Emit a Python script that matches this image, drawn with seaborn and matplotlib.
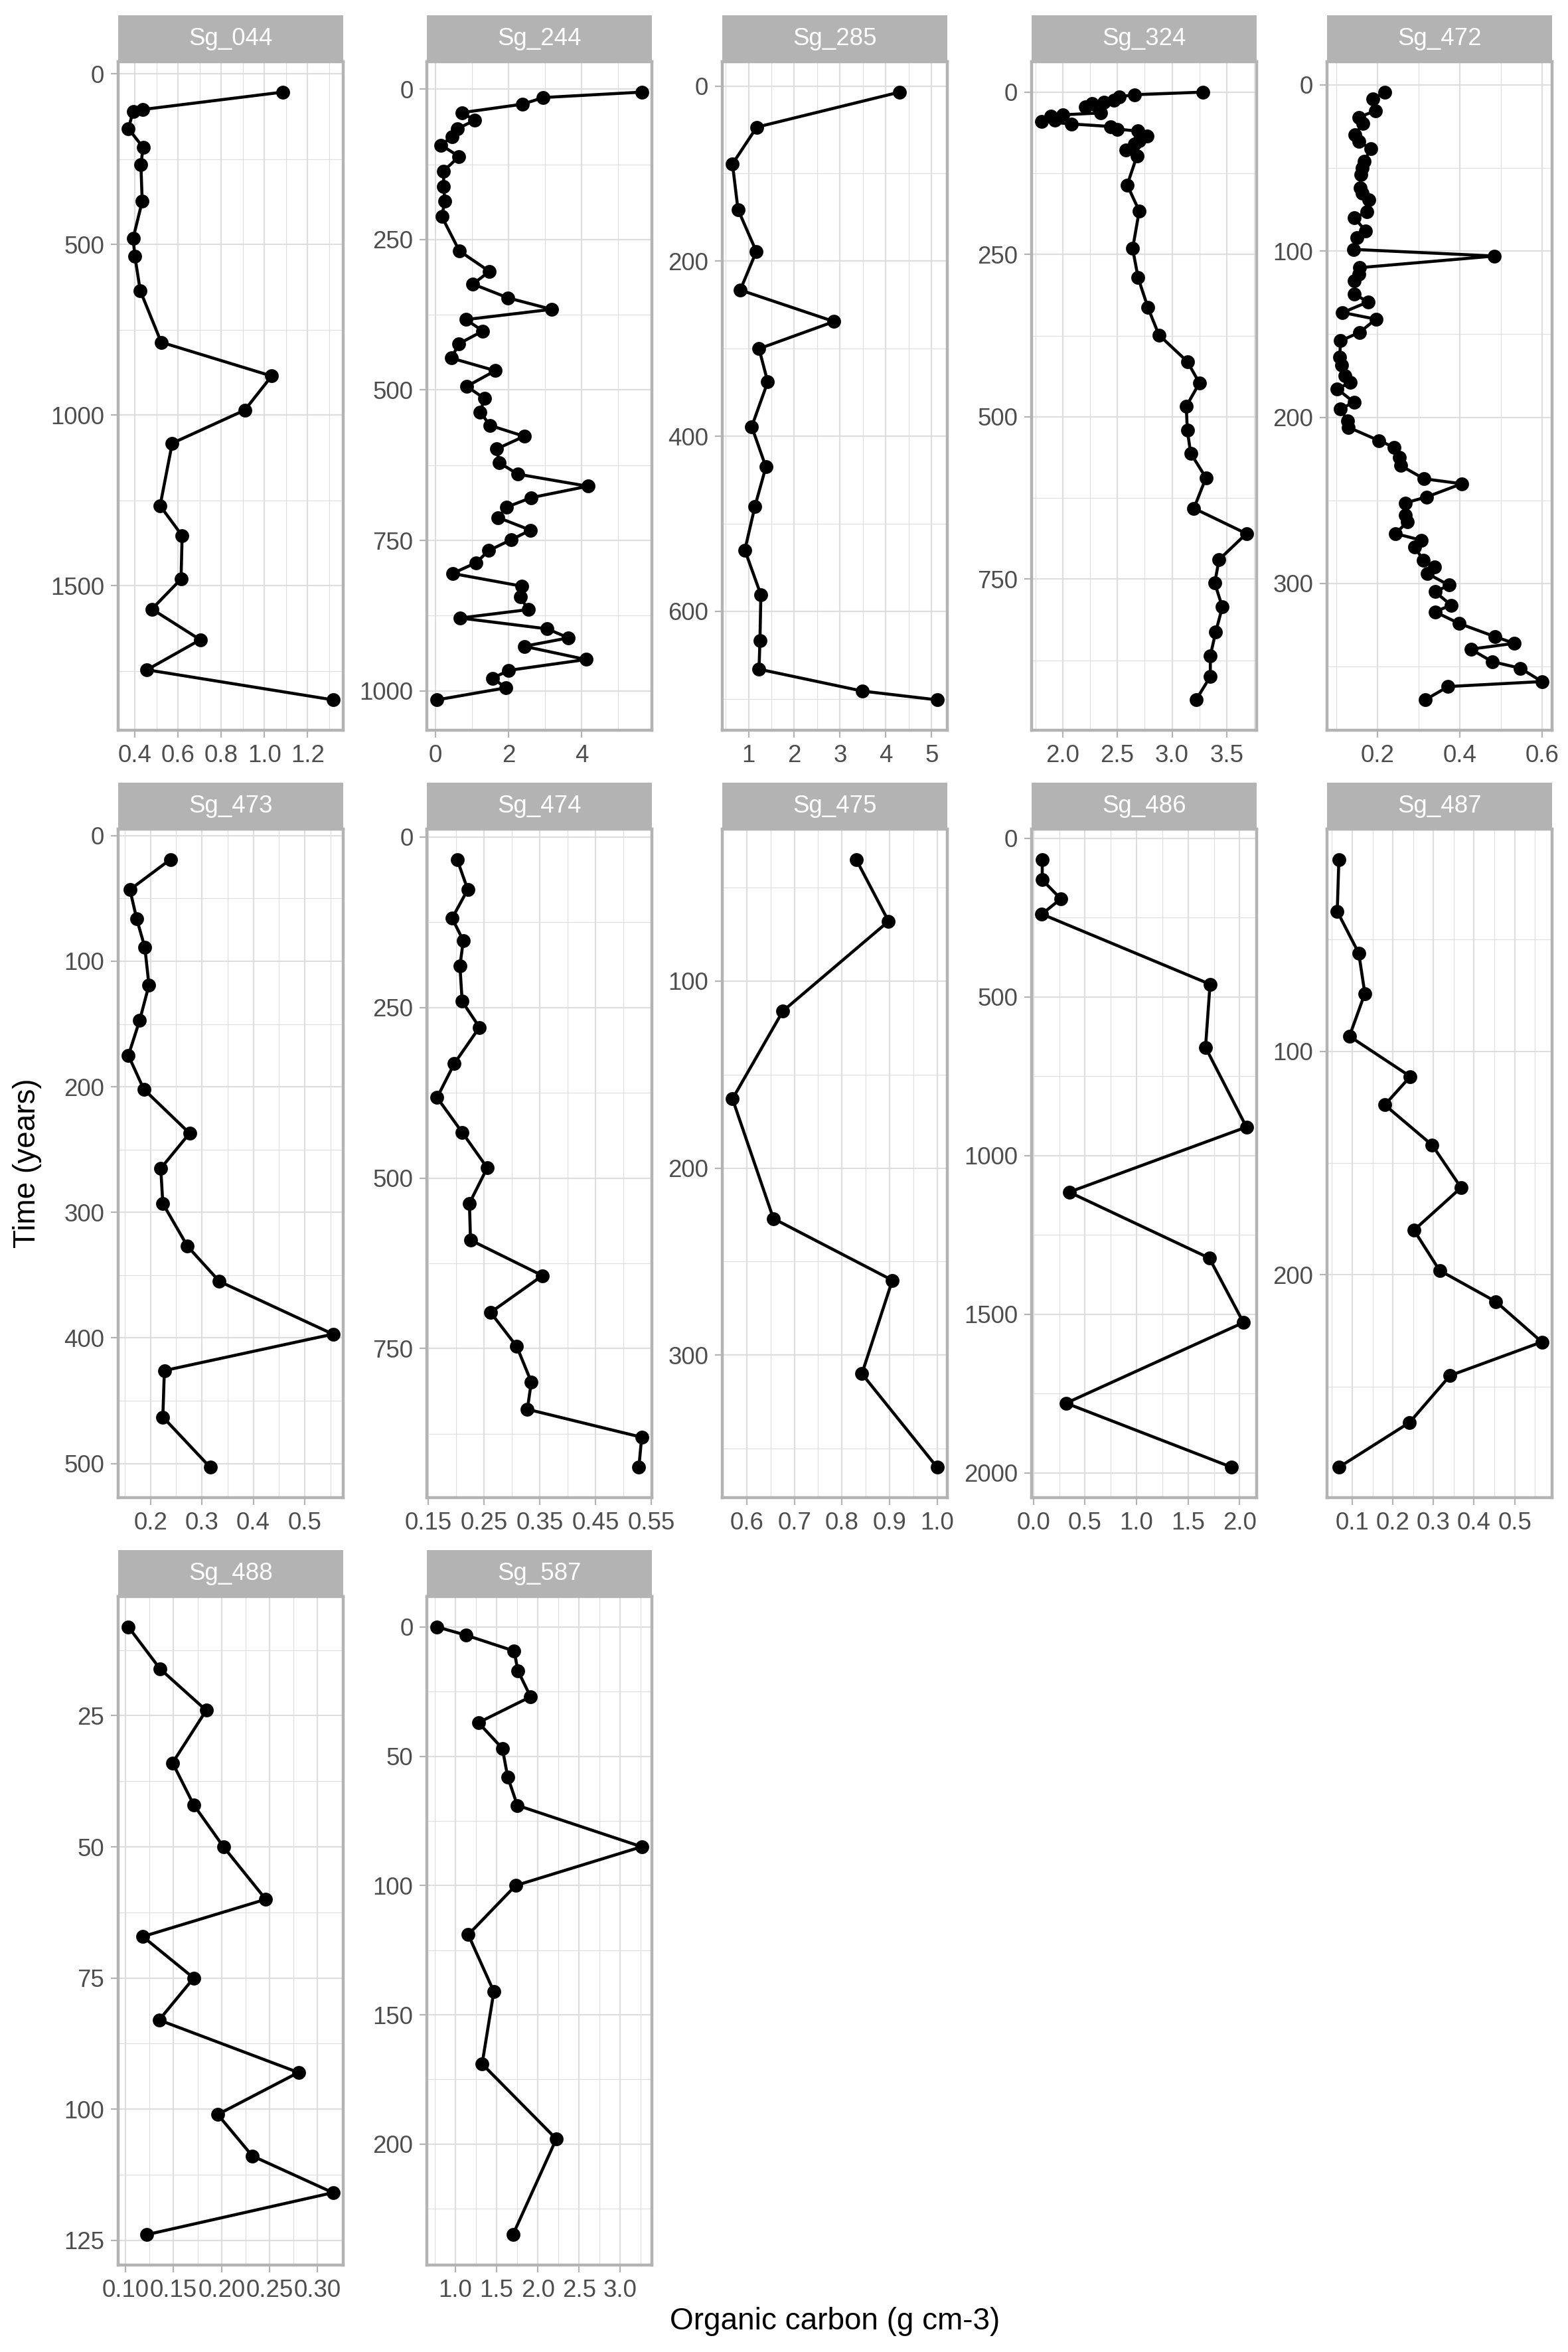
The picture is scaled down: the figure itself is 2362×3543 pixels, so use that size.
import numpy as np
import pandas as pd
import matplotlib
matplotlib.use('Agg')
import matplotlib.pyplot as plt
import seaborn as sns
from matplotlib.ticker import FixedLocator

# organic carbon (g cm-3) vs time (years) per core
sites = ['Sg_044', 'Sg_244', 'Sg_285', 'Sg_324', 'Sg_472', 'Sg_473',
         'Sg_474', 'Sg_475', 'Sg_486', 'Sg_487', 'Sg_488', 'Sg_587']

sg044_time = [54, 105, 110, 161, 216, 267, 374, 482, 535, 636, 787, 886, 986, 1083, 1266, 1354, 1481, 1569, 1659, 1747, 1835]
sg044_oc = [1.085, 0.436, 0.392, 0.370, 0.438, 0.428, 0.434, 0.392, 0.400, 0.425, 0.522, 1.034, 0.909, 0.573, 0.517, 0.619, 0.614, 0.479, 0.703, 0.456, 1.318]

sg244_time = [5, 14, 25, 39, 52, 66, 79, 93, 112, 136, 162, 186, 212, 269, 303, 324, 347, 366, 383, 402,
              423, 447, 468, 494, 514, 537, 559, 577, 598, 621, 640, 660, 679, 695, 712, 733, 749, 767, 787, 805,
              826, 844, 865, 879, 897, 912, 926, 948, 966, 979, 995, 1015]
sg244_oc = [5.64, 2.95, 2.39, 0.74, 1.07, 0.60, 0.46, 0.16, 0.65, 0.23, 0.23, 0.26, 0.18, 0.66, 1.48, 1.03, 1.99, 3.18, 0.84, 1.30,
            0.65, 0.44, 1.64, 0.86, 1.34, 1.23, 1.50, 2.43, 1.68, 1.75, 2.26, 4.17, 2.62, 1.94, 1.72, 2.60, 2.07, 1.46, 1.12, 0.47,
            2.36, 2.32, 2.54, 0.68, 3.06, 3.64, 2.43, 4.12, 2.01, 1.57, 1.93, 0.05]

sg285_time = [7, 47, 89, 141, 189, 233, 269, 300, 338, 389, 435, 480, 530, 581, 633, 666, 691, 701]
sg285_oc = [4.30, 1.18, 0.65, 0.77, 1.17, 0.82, 2.87, 1.23, 1.42, 1.07, 1.38, 1.14, 0.92, 1.27, 1.25, 1.23, 3.49, 5.12]

sg324_time = [0, 4, 7, 13, 16, 18, 23, 32, 35, 37, 43, 45, 49, 53, 57, 60, 68, 75, 80, 89,
              98, 143, 183, 241, 286, 332, 374, 415, 448, 484, 521, 556, 594, 641, 680, 720, 756, 793, 831, 868, 900, 936]
sg324_oc = [3.28, 2.66, 2.52, 2.47, 2.38, 2.27, 2.21, 2.35, 2.00, 1.89, 1.93, 1.81, 2.08, 2.44, 2.50, 2.69, 2.77, 2.70, 2.66, 2.58,
            2.68, 2.59, 2.70, 2.64, 2.69, 2.78, 2.88, 3.14, 3.25, 3.13, 3.14, 3.17, 3.31, 3.20, 3.68, 3.43, 3.39, 3.46, 3.40, 3.35, 3.35, 3.22]

sg472_time = [4.4, 8.5, 15.5, 19.6, 23.4, 30, 34, 38.6, 46, 50, 54, 62, 65, 69, 76.5, 80, 88, 92, 99, 103,
              110, 114, 118, 126, 130.6, 137, 141, 149, 154, 164, 168.5, 175, 179, 183, 191, 195, 202, 206, 214, 218,
              224, 229, 237, 240, 248, 251.5, 259, 263, 270, 274, 278, 286, 290, 294, 301, 305, 313, 317, 324, 332,
              336, 339.5, 347, 351, 359, 362, 370]
sg472_oc = [0.218, 0.188, 0.195, 0.155, 0.164, 0.145, 0.155, 0.183, 0.168, 0.163, 0.160, 0.158, 0.163, 0.179, 0.174, 0.144, 0.171, 0.150, 0.141, 0.485,
            0.157, 0.155, 0.143, 0.144, 0.177, 0.115, 0.196, 0.156, 0.110, 0.108, 0.113, 0.120, 0.134, 0.102, 0.143, 0.109, 0.127, 0.129, 0.203, 0.240,
            0.253, 0.256, 0.313, 0.405, 0.319, 0.268, 0.268, 0.272, 0.244, 0.307, 0.291, 0.311, 0.339, 0.321, 0.374, 0.340, 0.379, 0.340, 0.398, 0.486,
            0.533, 0.427, 0.479, 0.548, 0.600, 0.372, 0.316]

sg473_time = [19, 43, 66, 89, 119, 147, 175, 202, 237, 265, 293, 327, 355, 397, 426, 463, 503]
sg473_oc = [0.2385, 0.160, 0.173, 0.189, 0.197, 0.179, 0.157, 0.187, 0.276, 0.220, 0.224, 0.272, 0.334, 0.555, 0.227, 0.224, 0.316]

sg474_time = [33, 77, 119, 152, 189, 241, 279, 332, 382, 433, 485, 537, 591, 643, 697, 747, 799, 839, 880, 924]
sg474_oc = [0.202, 0.221, 0.193, 0.213, 0.207, 0.211, 0.242, 0.197, 0.166, 0.211, 0.256, 0.224, 0.226, 0.355, 0.262, 0.309, 0.335, 0.328, 0.533, 0.528]

sg475_time = [35, 68, 116, 163, 227, 260, 310, 360]
sg475_oc = [0.830, 0.898, 0.676, 0.570, 0.656, 0.906, 0.842, 1.000]

sg486_time = [67, 131, 191, 239, 460, 659, 910, 1115, 1323, 1526, 1780, 1982]
sg486_oc = [0.085, 0.085, 0.265, 0.081, 1.713, 1.669, 2.066, 0.346, 1.706, 2.037, 0.316, 1.923]

sg487_time = [14.3, 37.5, 56.2, 74.2, 93.3, 111.3, 124, 142, 161, 180, 198, 212, 230, 245, 266, 286]
sg487_oc = [0.067, 0.063, 0.116, 0.131, 0.093, 0.243, 0.180, 0.297, 0.368, 0.252, 0.315, 0.454, 0.567, 0.341, 0.241, 0.067]

sg488_time = [8.1, 16.1, 24.0, 34.0, 42.0, 50.0, 60.0, 67.1, 75.0, 83.0, 93.0, 101.0, 108.9, 115.9, 123.9]
sg488_oc = [0.103, 0.136, 0.184, 0.149, 0.171, 0.202, 0.246, 0.118, 0.171, 0.135, 0.280, 0.196, 0.232, 0.316, 0.122]

sg587_time = [0, 3.2, 9.3, 17, 27, 37, 47, 58, 69, 85, 100, 119, 141, 169, 198, 235]
sg587_oc = [0.779, 1.131, 1.712, 1.760, 1.912, 1.28, 1.571, 1.635, 1.752, 3.259, 1.731, 1.157, 1.467, 1.325, 2.224, 1.699]

# major breaks shown on each panel
x_breaks = {
    'Sg_044': [0.4, 0.6, 0.8, 1.0, 1.2], 'Sg_244': [0, 2, 4], 'Sg_285': [1, 2, 3, 4, 5],
    'Sg_324': [2.0, 2.5, 3.0, 3.5], 'Sg_472': [0.2, 0.4, 0.6], 'Sg_473': [0.2, 0.3, 0.4, 0.5],
    'Sg_474': [0.15, 0.25, 0.35, 0.45, 0.55], 'Sg_475': [0.6, 0.7, 0.8, 0.9, 1.0],
    'Sg_486': [0.0, 0.5, 1.0, 1.5, 2.0], 'Sg_487': [0.1, 0.2, 0.3, 0.4, 0.5],
    'Sg_488': [0.10, 0.15, 0.20, 0.25, 0.30], 'Sg_587': [1.0, 1.5, 2.0, 2.5, 3.0],
}
y_breaks = {
    'Sg_044': [0, 500, 1000, 1500], 'Sg_244': [0, 250, 500, 750, 1000], 'Sg_285': [0, 200, 400, 600],
    'Sg_324': [0, 250, 500, 750], 'Sg_472': [0, 100, 200, 300], 'Sg_473': [0, 100, 200, 300, 400, 500],
    'Sg_474': [0, 250, 500, 750], 'Sg_475': [100, 200, 300], 'Sg_486': [0, 500, 1000, 1500, 2000],
    'Sg_487': [100, 200], 'Sg_488': [25, 50, 75, 100, 125], 'Sg_587': [0, 50, 100, 150, 200],
}

times = [sg044_time, sg244_time, sg285_time, sg324_time, sg472_time, sg473_time,
         sg474_time, sg475_time, sg486_time, sg487_time, sg488_time, sg587_time]
carbon = [sg044_oc, sg244_oc, sg285_oc, sg324_oc, sg472_oc, sg473_oc,
          sg474_oc, sg475_oc, sg486_oc, sg487_oc, sg488_oc, sg587_oc]

df = pd.concat([pd.DataFrame({'site': s, 'time': t, 'oc': c}) for s, t, c in zip(sites, times, carbon)],
               ignore_index=True)


def fmt(vals):
    # same number of decimals on every label, like ggplot
    d = 0
    while d < 4 and any(abs(round(v, d) - v) > 1e-9 for v in vals):
        d += 1
    return [f'{v:.{d}f}' for v in vals]


def minors(breaks, lo, hi):
    if len(breaks) < 2:
        return []
    step = breaks[1] - breaks[0]
    m = np.arange(breaks[0] - step, breaks[-1] + 1.5 * step, step / 2)
    return [v for v in m if lo <= v <= hi and min(abs(v - b) for b in breaks) > step * 1e-6]


sns.set_theme(style='white')
plt.rcParams['font.family'] = ['Liberation Sans', 'DejaVu Sans']

W, H = 2362, 3543
fig = plt.figure(figsize=(W / 300, H / 300), dpi=300)
fig.patch.set_facecolor('white')

col_left = [178, 643, 1088, 1554, 1999]
row_top = [93, 1249, 2405]
pw, ph, sh = 339, 1007, 70

border = '#B3B3B3'
grid = '#DEDEDE'

for i, site in enumerate(sites):
    r, c = divmod(i, 5)
    x0 = col_left[c] / W
    ax = fig.add_axes([x0, 1 - (row_top[r] + ph) / H, pw / W, ph / H])
    sub = df[df['site'] == site]
    sns.lineplot(data=sub, x='oc', y='time', sort=False, estimator=None, color='black',
                 linewidth=1.1, marker='o', markersize=5.0, markeredgewidth=0, ax=ax, legend=False)

    xmin, xmax = sub['oc'].min(), sub['oc'].max()
    ymin, ymax = sub['time'].min(), sub['time'].max()
    xr, yr = xmax - xmin, ymax - ymin
    xlo, xhi = xmin - 0.05 * xr, xmax + 0.05 * xr
    ylo, yhi = ymin - 0.05 * yr, ymax + 0.05 * yr
    ax.set_xlim(xlo, xhi)
    ax.set_ylim(yhi, ylo)

    xb, yb = x_breaks[site], y_breaks[site]
    ax.set_xticks(xb)
    ax.set_xticklabels(fmt(xb))
    ax.set_yticks(yb)
    ax.set_yticklabels(fmt(yb))
    ax.xaxis.set_minor_locator(FixedLocator(minors(xb, xlo, xhi)))
    ax.yaxis.set_minor_locator(FixedLocator(minors(yb, ylo, yhi)))

    ax.set_facecolor('white')
    ax.grid(True, which='major', color=grid, linewidth=0.53)
    ax.grid(True, which='minor', color=grid, linewidth=0.27)
    ax.set_axisbelow(True)
    ax.tick_params(which='major', length=2.75, width=0.53, color=border, labelcolor='#4D4D4D',
                   labelsize=8.8, pad=2.2, left=True, bottom=True)
    ax.tick_params(which='minor', length=0, left=False, bottom=False)
    for sp in ax.spines.values():
        sp.set_color(border)
        sp.set_linewidth(1.07)
        sp.set_zorder(5)
    ax.set_xlabel('')
    ax.set_ylabel('')

    # facet strip
    sax = fig.add_axes([x0, 1 - row_top[r] / H, pw / W, sh / H])
    sax.set_facecolor(border)
    sax.set_xticks([])
    sax.set_yticks([])
    for sp in sax.spines.values():
        sp.set_visible(False)
    sax.text(0.5, 0.5, site, color='white', fontsize=8.8, ha='center', va='center',
             transform=sax.transAxes)

fig.text(1258 / W, 1 - 3497 / H, 'Organic carbon (g cm-3)', ha='center', va='center', fontsize=11, color='black')
fig.text(41 / W, 1 - 1752 / H, 'Time (years)', ha='center', va='center', rotation=90, fontsize=11, color='black')

fig.savefig('out.png', dpi=300, facecolor='white')
